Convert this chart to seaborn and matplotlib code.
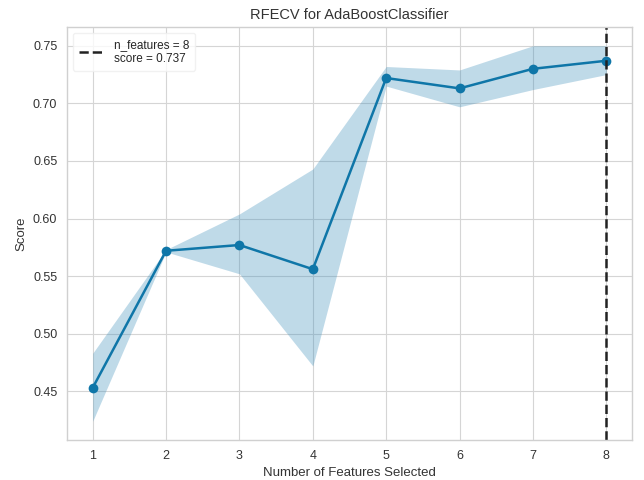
import numpy as np
import pandas as pd
import matplotlib
matplotlib.use("Agg")
import matplotlib.pyplot as plt
import seaborn as sns

n_features = [1, 2, 3, 4, 5, 6, 7, 8]
score_mean = [0.453, 0.572, 0.577, 0.556, 0.722, 0.713, 0.730, 0.737]
score_upper = [0.483, 0.573, 0.604, 0.643, 0.732, 0.729, 0.750, 0.750]
score_lower = [0.424, 0.571, 0.552, 0.472, 0.715, 0.697, 0.712, 0.725]
best_n = 8
best_score = 0.737

sns.set_style("whitegrid", {"axes.edgecolor": "#d0d0d0", "grid.color": "#d5d5d5"})
plt.rcParams["font.family"] = ["Liberation Sans", "DejaVu Sans"]

fig = plt.figure(figsize=(6.44, 4.8), dpi=100)
ax = fig.add_axes([67 / 644, 40 / 480, 565 / 644, 413 / 480])

color = "#0f76a8"
df = pd.DataFrame({"n": n_features, "score": score_mean})
sns.lineplot(data=df, x="n", y="score", ax=ax, color=color, marker="o",
             markersize=7, linewidth=1.8, markeredgewidth=0)
ax.fill_between(n_features, score_lower, score_upper, color="#3d8fbb", alpha=0.33, linewidth=0)
ax.axvline(best_n, color="#222222", linestyle="--", linewidth=1.8,
           label=f"n_features = {best_n}\nscore = {best_score:.3f}")

ax.set_title("RFECV for AdaBoostClassifier", fontsize=10.5, color="#333333")
ax.set_xlabel("Number of Features Selected", fontsize=9.5, color="#333333")
ax.set_ylabel("Score", fontsize=9.5, color="#333333")
ax.tick_params(labelsize=9, colors="#333333")
ax.set_xticks(n_features)
leg = ax.legend(loc="upper left", frameon=True, fontsize=8.5, handlelength=2.2,
                labelspacing=0.1, borderpad=0.5)
leg.get_frame().set_edgecolor("#eeeeee")
for s in ax.spines.values():
    s.set_linewidth(1.0)
fig.savefig("out.png", dpi=100)
